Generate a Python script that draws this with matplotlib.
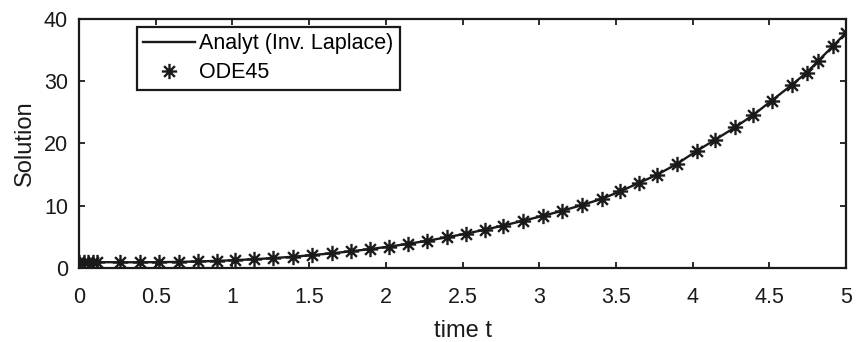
import matplotlib
matplotlib.use("Agg")
import matplotlib.pyplot as plt
from matplotlib.path import Path

# ODE45 sample times and solution values
t_ode = [0.0, 0.03, 0.06, 0.09, 0.12, 0.27, 0.40, 0.52, 0.65, 0.775, 0.897,
         1.017, 1.141, 1.267, 1.393, 1.517, 1.647, 1.771, 1.897, 2.023, 2.147,
         2.271, 2.397, 2.521, 2.647, 2.766, 2.892, 3.023, 3.147, 3.277, 3.407,
         3.527, 3.653, 3.77, 3.896, 4.027, 4.146, 4.277, 4.396, 4.516, 4.646,
         4.744, 4.82, 4.917, 5.0]
y_ode = [1.0, 0.98, 0.96, 0.95, 0.94, 0.92, 0.92, 0.94, 0.98, 1.05, 1.14,
         1.26, 1.41, 1.59, 1.81, 2.06, 2.36, 2.68, 3.04, 3.44, 3.89,
         4.38, 4.93, 5.51, 6.16, 6.82, 7.57, 8.37, 9.17, 10.1, 11.1,
         12.3, 13.7, 15.0, 16.7, 18.8, 20.6, 22.6, 24.6, 26.9, 29.4,
         31.4, 33.3, 35.7, 37.8]

# Analytic curve (same reading, drawn as line)
t_an = t_ode
y_an = y_ode

xticks = [0, 0.5, 1, 1.5, 2, 2.5, 3, 3.5, 4, 4.5, 5]
xticklabels = ["0", "0.5", "1", "1.5", "2", "2.5", "3", "3.5", "4", "4.5", "5"]
yticks = [0, 10, 20, 30, 40]
yticklabels = ["0", "10", "20", "30", "40"]

plt.rcParams['font.family'] = ['Liberation Sans', 'DejaVu Sans']
INK = '#1a1a1a'

W, H = 856, 342
fig = plt.figure(figsize=(W / 100, H / 100), dpi=100)
ax = fig.add_axes([79 / W, 1 - 268 / H, (846 - 79) / W, (268 - 19) / H])

s = 0.7071
star = Path([(-1, 0), (1, 0), (0, -1), (0, 1), (-s, -s), (s, s), (-s, s), (s, -s)],
            [Path.MOVETO, Path.LINETO] * 4)

ax.plot(t_an, y_an, color=INK, lw=1.7, label='Analyt (Inv. Laplace)')
ax.plot(t_ode, y_ode, linestyle='none', marker=star, markersize=11,
        markeredgecolor=INK, markerfacecolor='none', markeredgewidth=1.7,
        label='ODE45')

ax.set_xlim(0, 5)
ax.set_ylim(0, 40)
ax.set_xticks(xticks)
ax.set_xticklabels(xticklabels)
ax.set_yticks(yticks)
ax.set_yticklabels(yticklabels)
ax.tick_params(direction='in', length=4, width=1.3, top=True, right=True,
               labelsize=15.5, colors=INK)
ax.tick_params(axis='x', pad=14)
ax.tick_params(axis='y', pad=8)
for sp in ax.spines.values():
    sp.set_linewidth(1.6)
    sp.set_color(INK)

ax.set_xlabel('time t', fontsize=17, color=INK, labelpad=8)
ax.set_ylabel('Solution', fontsize=17, color=INK, labelpad=6)

leg = ax.legend(loc='upper left', bbox_to_anchor=(137 / W, 1 - 27 / H),
                bbox_transform=fig.transFigure, borderaxespad=0,
                fontsize=15.5, fancybox=False, framealpha=1, edgecolor=INK,
                handlelength=2.4, handletextpad=0.2, borderpad=0.3,
                labelspacing=0.36)
leg.get_frame().set_linewidth(1.6)

fig.savefig('out.png', dpi=100)
